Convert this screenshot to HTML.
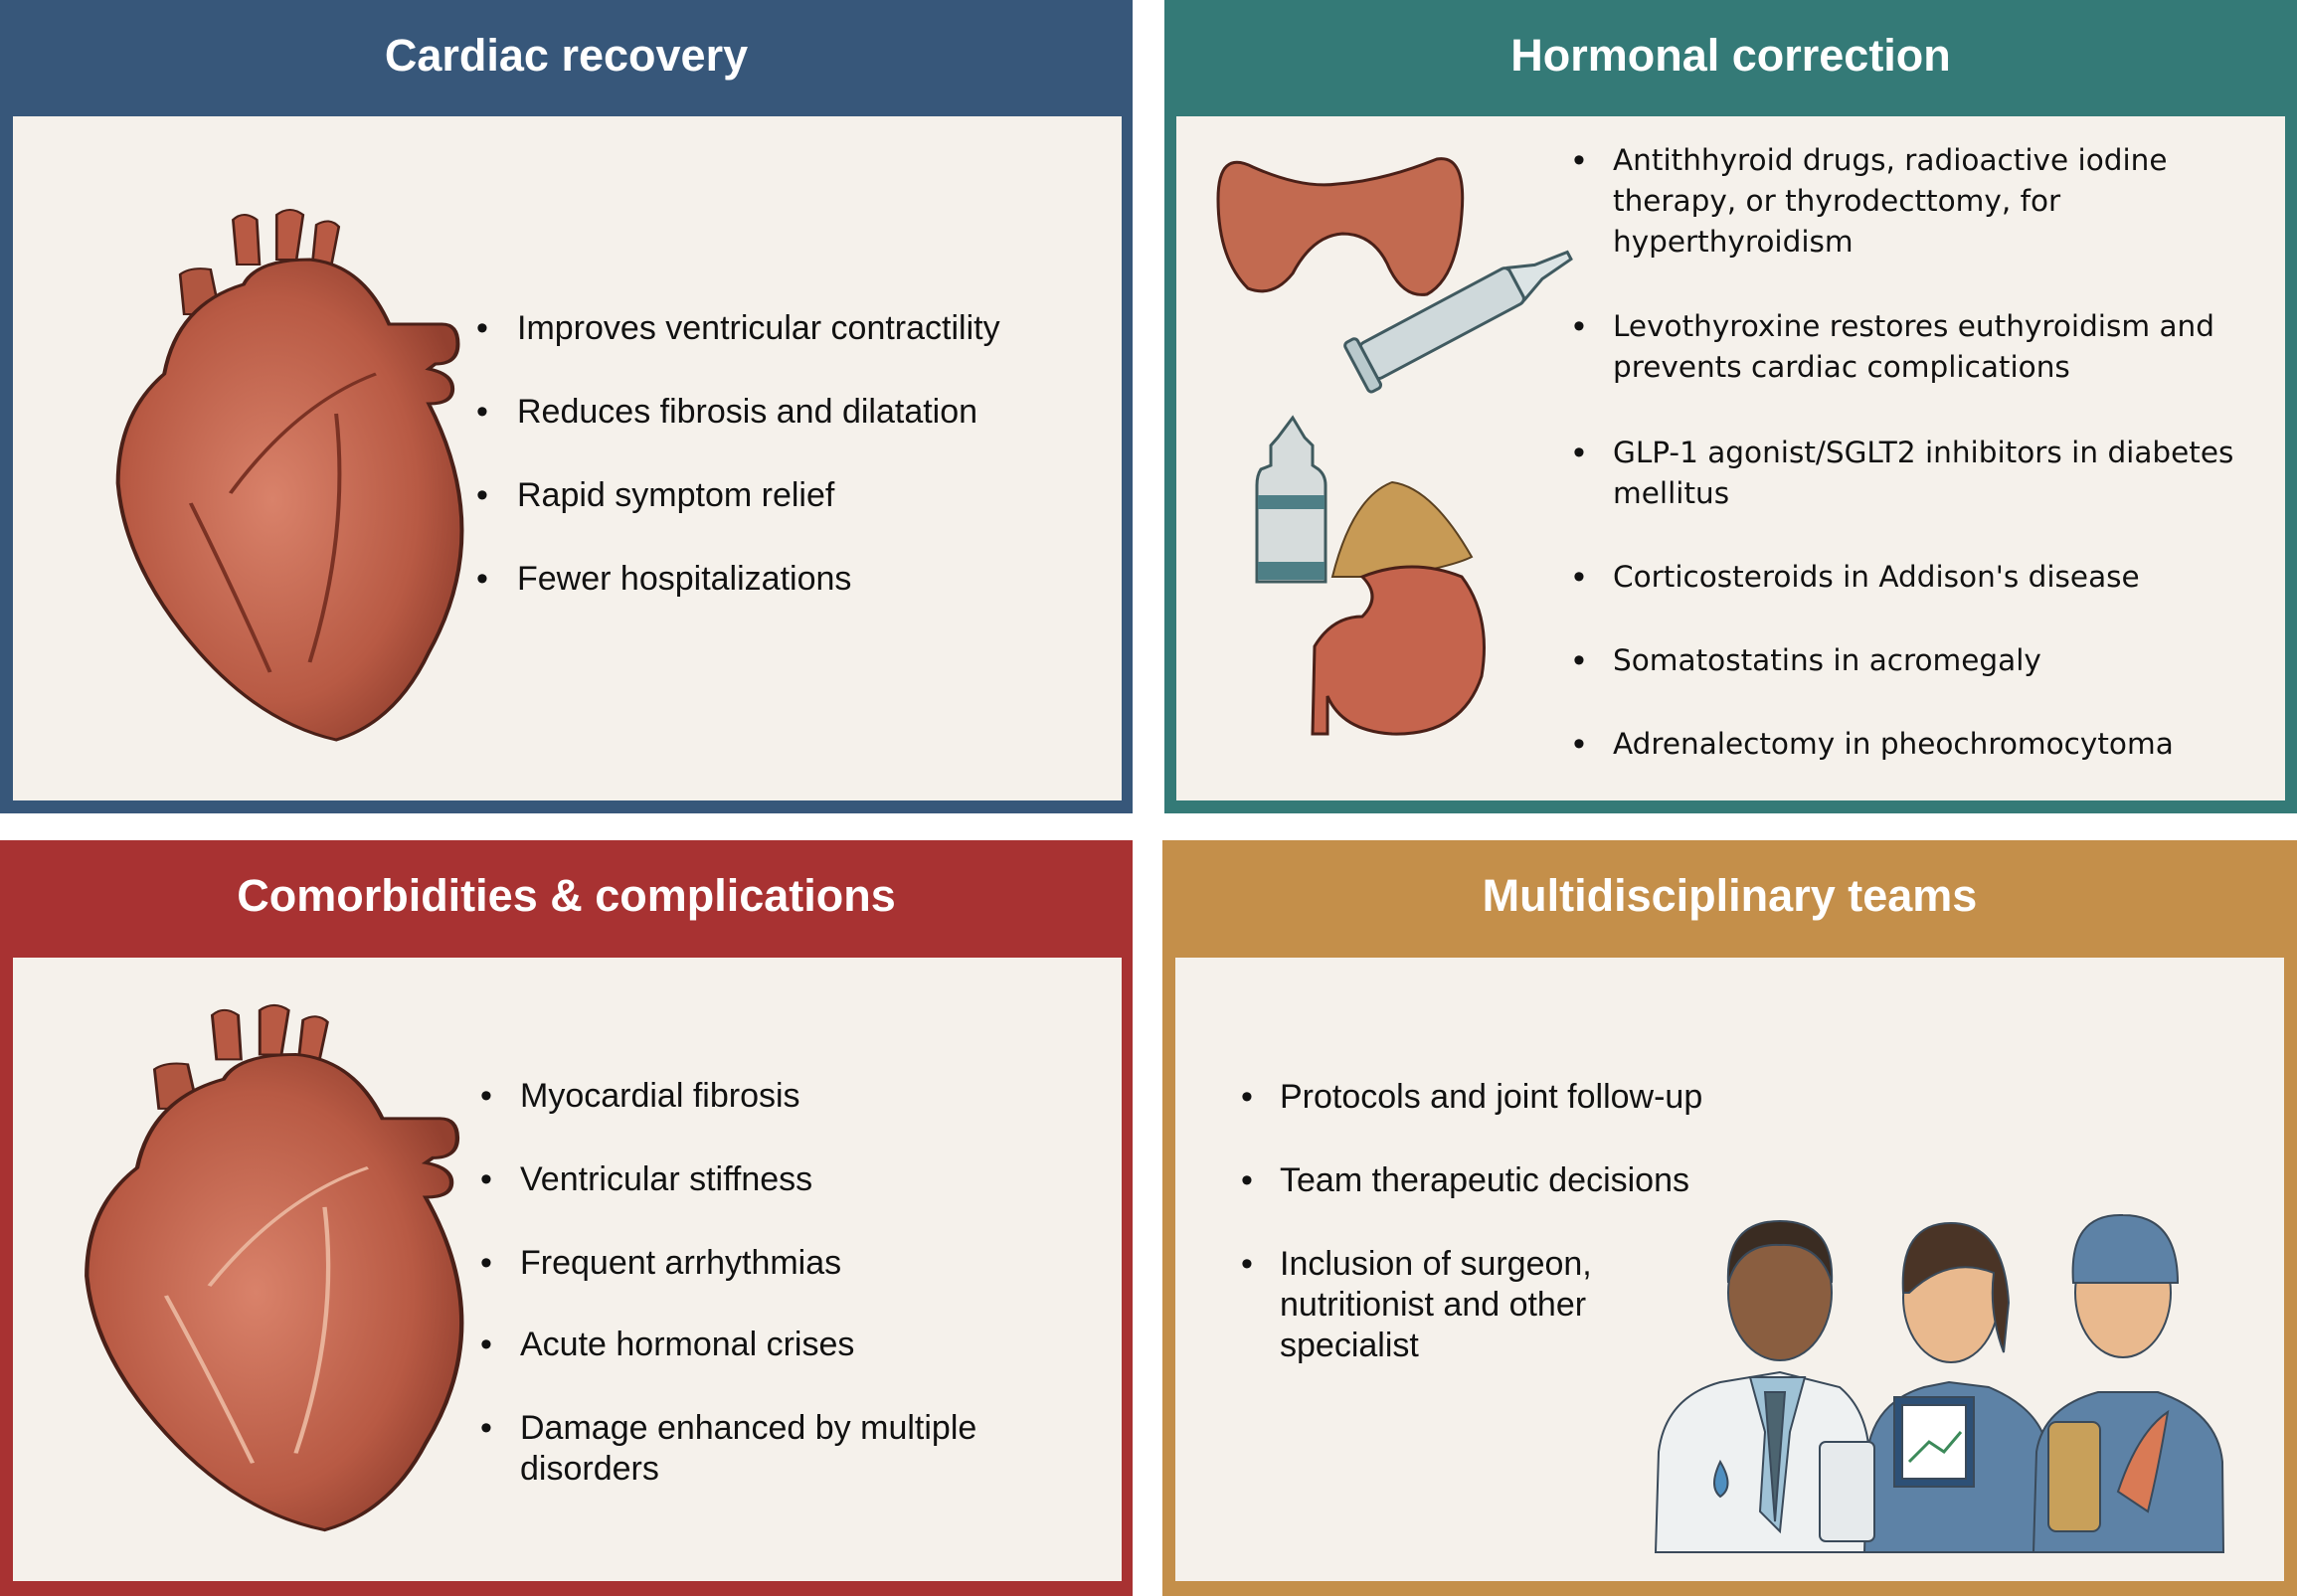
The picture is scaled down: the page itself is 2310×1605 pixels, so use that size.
<!DOCTYPE html>
<html><head><meta charset="utf-8"><style>
*{margin:0;padding:0;box-sizing:border-box}
body{width:2310px;height:1605px;background:#fff;position:relative;overflow:hidden;font-family:"Liberation Sans",sans-serif;color:#111}
.p{position:absolute}
.hd{position:absolute;left:0;right:0;top:0;color:#fff;font-weight:bold;font-size:45px;text-align:center}
.in{position:absolute;background:#f5f1eb}
.t{position:absolute;font-size:34px;line-height:41px;white-space:nowrap}
.b{position:absolute;font-size:34px;line-height:41px}
.v{font-family:"DejaVu Sans",sans-serif;font-size:29.5px}
</style></head><body>

<div class="p" style="left:0;top:0;width:1139px;height:818px;background:#37577a">
 <div class="hd" style="top:30px">Cardiac recovery</div>
 <div class="in" style="left:13px;top:117px;width:1115px;height:688px"></div>
</div>
<div class="p" style="left:1171px;top:0;width:1139px;height:818px;background:#347a77">
 <div class="hd" style="top:30px">Hormonal correction</div>
 <div class="in" style="left:12px;top:117px;width:1115px;height:688px"></div>
</div>
<div class="p" style="left:0;top:845px;width:1139px;height:760px;background:#a83232">
 <div class="hd" style="top:30px">Comorbidities &amp; complications</div>
 <div class="in" style="left:13px;top:118px;width:1115px;height:627px"></div>
</div>
<div class="p" style="left:1169px;top:845px;width:1141px;height:760px;background:#c48f4a">
 <div class="hd" style="top:30px">Multidisciplinary teams</div>
 <div class="in" style="left:13px;top:118px;width:1115px;height:627px"></div>
</div>

<svg width="2310" height="1605" style="position:absolute;left:0;top:0">
<defs>
<radialGradient id="hg" cx="0.45" cy="0.5" r="0.6"><stop offset="0" stop-color="#d9826a"/><stop offset="0.7" stop-color="#b85a44"/><stop offset="1" stop-color="#93402f"/></radialGradient>
</defs>
<g transform="translate(112,206) scale(1.33,1)">
 <path d="M95 60 L92 15 Q100 5 110 15 L112 60 Z M125 55 L125 10 Q135 0 145 10 L140 55 Z M152 60 L155 20 Q165 12 172 22 L165 70 Z" fill="#b85a44" stroke="#4a2018" stroke-width="2"/>
 <path d="M55 110 L52 70 Q60 62 75 65 L82 110 Z" fill="#b05640" stroke="#4a2018" stroke-width="2"/>
 <path d="M40 170 Q50 100 100 80 Q110 55 150 55 Q190 60 210 120 L250 120 Q262 120 262 140 Q262 160 245 160 L240 165 Q258 170 258 185 Q258 200 240 200 Q290 330 240 450 Q215 520 170 538 Q110 520 60 440 Q10 360 5 280 Q5 210 40 170 Z" fill="url(#hg)" stroke="#4a2018" stroke-width="3"/>
 <path d="M90 290 Q140 200 200 170 M170 210 Q180 330 150 460 M60 300 Q90 380 120 470" fill="none" stroke="#7a3224" stroke-width="3"/>
</g>
<g transform="translate(80,1006) scale(1.45,0.99)">
 <path d="M95 60 L92 15 Q100 5 110 15 L112 60 Z M125 55 L125 10 Q135 0 145 10 L140 55 Z M152 60 L155 20 Q165 12 172 22 L165 70 Z" fill="#b85a44" stroke="#4a2018" stroke-width="2"/>
 <path d="M55 110 L52 70 Q60 62 75 65 L82 110 Z" fill="#b05640" stroke="#4a2018" stroke-width="2"/>
 <path d="M40 170 Q50 100 100 80 Q110 55 150 55 Q190 60 210 120 L250 120 Q262 120 262 140 Q262 160 245 160 L240 165 Q258 170 258 185 Q258 200 240 200 Q290 330 240 450 Q215 520 170 538 Q110 520 60 440 Q10 360 5 280 Q5 210 40 170 Z" fill="url(#hg)" stroke="#4a2018" stroke-width="3"/>
 <path d="M90 290 Q140 200 200 170 M170 210 Q180 330 150 460 M60 300 Q90 380 120 470" fill="none" stroke="#e8b29a" stroke-width="3"/>
</g>
<path d="M1225 200 Q1225 150 1260 168 Q1310 190 1345 185 Q1390 182 1445 160 Q1475 155 1470 215 Q1465 280 1435 296 Q1410 300 1395 265 Q1380 235 1350 235 Q1320 237 1300 275 Q1280 300 1255 290 Q1225 260 1225 200 Z" fill="#c26a50" stroke="#4a2018" stroke-width="3"/>
<g transform="translate(1375,365) rotate(-28)">
 <rect x="0" y="-20" width="170" height="40" rx="6" fill="#cfd9db" stroke="#405a60" stroke-width="3"/>
 <rect x="-12" y="-28" width="14" height="56" rx="4" fill="#b9c9cc" stroke="#405a60" stroke-width="3"/>
 <path d="M170 -18 L195 -8 L230 -4 L230 4 L195 8 L170 18 Z" fill="#dce4e5" stroke="#405a60" stroke-width="3"/>
</g>
<path d="M1300 420 L1285 440 L1278 448 L1278 468 L1268 472 Q1264 478 1264 488 L1264 585 L1333 585 L1333 488 Q1333 478 1326 472 L1320 468 L1320 448 L1312 440 Z" fill="#d6dcdc" stroke="#3f5a5e" stroke-width="3"/>
<rect x="1265" y="498" width="67" height="14" fill="#4e7f86"/><rect x="1265" y="565" width="67" height="18" fill="#4e7f86"/>
<path d="M1340 580 Q1360 500 1400 485 Q1440 490 1480 560 Q1460 570 1400 580 Z" fill="#c79a55" stroke="#5a4020" stroke-width="2"/>
<path d="M1370 580 Q1420 560 1470 580 Q1500 620 1490 680 Q1470 740 1400 738 Q1350 735 1335 700 L1335 738 L1320 738 L1322 650 Q1340 620 1370 620 Q1390 600 1370 580 Z" fill="#c5644d" stroke="#4a2018" stroke-width="3"/>
<g stroke="#3a4a5a" stroke-width="2">
 <path d="M1665 1561 L1668 1460 Q1675 1405 1730 1390 L1790 1380 L1850 1395 Q1880 1420 1880 1470 L1882 1561 Z" fill="#eef1f2"/>
 <path d="M1760 1385 L1775 1440 L1770 1520 L1790 1540 L1800 1440 L1815 1385 Z" fill="#9fc2d6"/>
 <path d="M1775 1400 L1785 1530 L1795 1400 Z" fill="#4c6470"/>
 <ellipse cx="1790" cy="1300" rx="52" ry="68" fill="#8a5e40"/>
 <path d="M1738 1290 Q1735 1228 1790 1228 Q1845 1228 1842 1290 Q1830 1250 1790 1252 Q1750 1250 1738 1290 Z" fill="#3a2c22"/>
 <path d="M1875 1561 L1878 1460 Q1885 1410 1935 1395 L1960 1390 L2000 1395 Q2060 1420 2060 1470 L2060 1561 Z" fill="#5d82a6"/>
 <ellipse cx="1962" cy="1305" rx="48" ry="65" fill="#e9b98e"/>
 <path d="M1914 1300 Q1910 1230 1962 1230 Q2015 1230 2020 1310 L2015 1360 Q2000 1320 2005 1280 Q1960 1262 1920 1300 Z" fill="#4a3426"/>
 <rect x="1905" y="1405" width="80" height="90" fill="#2d5076"/><rect x="1913" y="1413" width="64" height="74" fill="#fff"/>
 <path d="M1920 1470 L1940 1450 L1955 1460 L1972 1440" fill="none" stroke="#3c8a5a" stroke-width="3"/>
 <path d="M2045 1561 L2048 1460 Q2055 1415 2110 1400 L2170 1400 Q2230 1420 2235 1470 L2236 1561 Z" fill="#5d82a6"/>
 <ellipse cx="2135" cy="1300" rx="48" ry="65" fill="#e9b98e"/>
 <path d="M2085 1290 Q2080 1220 2135 1222 Q2190 1222 2190 1290 Z" fill="#5d82a6"/>
 <rect x="2060" y="1430" width="52" height="110" rx="8" fill="#c8a05a"/>
 <path d="M2130 1500 Q2150 1440 2180 1420 Q2170 1480 2160 1520 Z" fill="#d97a55"/>
 <rect x="1830" y="1450" width="55" height="100" rx="6" fill="#e6eaec"/>
 <path d="M1730 1470 Q1718 1495 1730 1505 Q1745 1495 1730 1470 Z" fill="#4f8fc0"/>
</g>
</svg>

<div class="b" style="left:479px;top:310px">•</div><div class="t" style="left:520px;top:310px">Improves ventricular contractility</div>
<div class="b" style="left:479px;top:394px">•</div><div class="t" style="left:520px;top:394px">Reduces fibrosis and dilatation</div>
<div class="b" style="left:479px;top:478px">•</div><div class="t" style="left:520px;top:478px">Rapid symptom relief</div>
<div class="b" style="left:479px;top:562px">•</div><div class="t" style="left:520px;top:562px">Fewer hospitalizations</div>

<div class="b" style="left:1582px;top:141px">•</div><div class="t v" style="left:1622px;top:141px">Antithhyroid drugs, radioactive iodine<br>therapy, or thyrodecttomy, for<br>hyperthyroidism</div>
<div class="b" style="left:1582px;top:308px">•</div><div class="t v" style="left:1622px;top:308px">Levothyroxine restores euthyroidism and<br>prevents cardiac complications</div>
<div class="b" style="left:1582px;top:435px">•</div><div class="t v" style="left:1622px;top:435px">GLP-1 agonist/SGLT2 inhibitors in diabetes<br>mellitus</div>
<div class="b" style="left:1582px;top:560px">•</div><div class="t v" style="left:1622px;top:560px">Corticosteroids in Addison's disease</div>
<div class="b" style="left:1582px;top:644px">•</div><div class="t v" style="left:1622px;top:644px">Somatostatins in acromegaly</div>
<div class="b" style="left:1582px;top:728px">•</div><div class="t v" style="left:1622px;top:728px">Adrenalectomy in pheochromocytoma</div>

<div class="b" style="left:483px;top:1082px">•</div><div class="t" style="left:523px;top:1082px">Myocardial fibrosis</div>
<div class="b" style="left:483px;top:1166px">•</div><div class="t" style="left:523px;top:1166px">Ventricular stiffness</div>
<div class="b" style="left:483px;top:1250px">•</div><div class="t" style="left:523px;top:1250px">Frequent arrhythmias</div>
<div class="b" style="left:483px;top:1332px">•</div><div class="t" style="left:523px;top:1332px">Acute hormonal crises</div>
<div class="b" style="left:483px;top:1416px">•</div><div class="t" style="left:523px;top:1416px">Damage enhanced by multiple<br>disorders</div>

<div class="b" style="left:1248px;top:1083px">•</div><div class="t" style="left:1287px;top:1083px">Protocols and joint follow-up</div>
<div class="b" style="left:1248px;top:1167px">•</div><div class="t" style="left:1287px;top:1167px">Team therapeutic decisions</div>
<div class="b" style="left:1248px;top:1251px">•</div><div class="t" style="left:1287px;top:1251px">Inclusion of surgeon,<br>nutritionist and other<br>specialist</div>
</body></html>
